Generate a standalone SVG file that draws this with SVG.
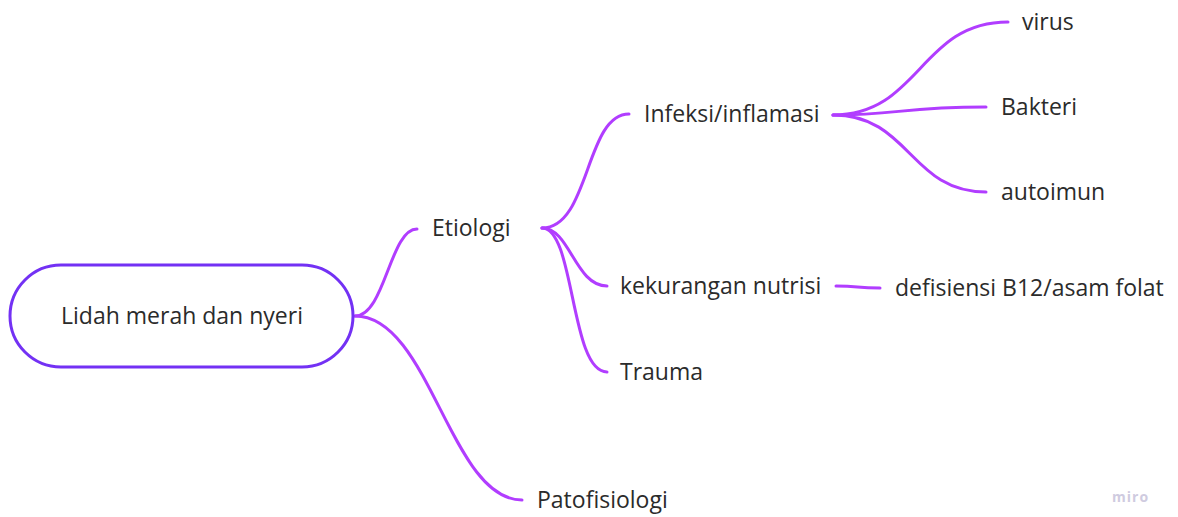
<svg xmlns="http://www.w3.org/2000/svg" width="1178" height="517" viewBox="0 0 1178 517">
  <style>
    .lbl { font-family: "Open Sans", "Noto Sans", sans-serif; font-size: 23px; fill: #2b2b2b; }
    .edge { fill: none; stroke: #B13DFF; stroke-width: 3; stroke-linecap: round; }
    .root { fill: #ffffff; stroke: #7331F4; stroke-width: 3; }
    .wm { font-family: "Open Sans", "Noto Sans", sans-serif; font-size: 14px; font-weight: 700; fill: #cfcbe0; letter-spacing: 1px; }
  </style>
  <rect width="1178" height="517" fill="#ffffff"/>

  <!-- connectors -->
  <g id="connectors">
    <path class="edge" d="M355,316 C385,316 390,229 417,229"/>
    <path class="edge" d="M355,316 C430,316 450,500 522,500"/>
    <path class="edge" d="M542,228 C590,228 585,114 629,114"/>
    <path class="edge" d="M542,228 C570,228 575,286 607,286"/>
    <path class="edge" d="M542,228 C575,228 570,372 607,372"/>
    <path class="edge" d="M833,115 C920,115 920,22 1008,22"/>
    <path class="edge" d="M833,115 C900,115 900,107 986,107"/>
    <path class="edge" d="M833,115 C910,115 910,192 986,192"/>
    <path class="edge" d="M836,286 C860,286 855,288 880,288"/>
  </g>

  <!-- root node -->
  <g id="node-root">
    <rect class="root" x="10" y="265" width="343" height="102" rx="51" ry="51"/>
    <text class="lbl" x="182" y="324" text-anchor="middle">Lidah merah dan nyeri</text>
  </g>

  <g id="node-etiologi"><text class="lbl" x="432" y="236">Etiologi</text></g>
  <g id="node-patofisiologi"><text class="lbl" x="537" y="508">Patofisiologi</text></g>
  <g id="node-infeksi"><text class="lbl" x="644" y="122">Infeksi/inflamasi</text></g>
  <g id="node-nutrisi"><text class="lbl" x="620" y="294">kekurangan nutrisi</text></g>
  <g id="node-trauma"><text class="lbl" x="620" y="380">Trauma</text></g>
  <g id="node-virus"><text class="lbl" x="1022" y="30">virus</text></g>
  <g id="node-bakteri"><text class="lbl" x="1001" y="115">Bakteri</text></g>
  <g id="node-autoimun"><text class="lbl" x="1001" y="200">autoimun</text></g>
  <g id="node-defisiensi"><text class="lbl" x="895" y="296">defisiensi B12/asam folat</text></g>

  <text class="wm" x="1112" y="502">miro</text>
</svg>
